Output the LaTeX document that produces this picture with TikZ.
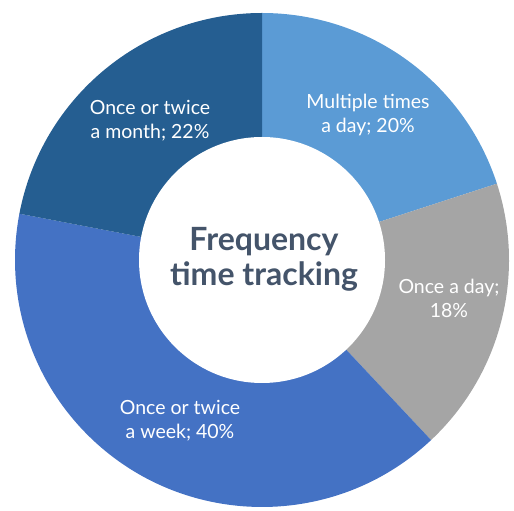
\documentclass[tikz,border=0pt]{standalone}
\usepackage{fontspec}
\setmainfont{Lato}
\usetikzlibrary{positioning,calc}

\definecolor{sliceA}{HTML}{5B9BD5}
\definecolor{sliceB}{HTML}{A5A5A5}
\definecolor{sliceC}{HTML}{4472C4}
\definecolor{sliceD}{HTML}{255E91}
\definecolor{titlegray}{HTML}{44546A}

\begin{document}
\begin{tikzpicture}[
    x=1pt, y=1pt,
    label/.style={align=center, text=white, font=\fontsize{19.5}{24}\selectfont, inner sep=0pt},
    title/.style={align=center, text=titlegray, font=\bfseries\fontsize{32}{35}\selectfont, inner sep=0pt}
]
\useasboundingbox (0,0) rectangle (514,511);

\coordinate (ctr) at (262,251);

% Slices (clockwise from top)
\fill[sliceA] (ctr) -- ++(90:247) arc[start angle=90, end angle=18, radius=247] -- cycle;
\fill[sliceB] (ctr) -- ++(18:247) arc[start angle=18, end angle=-46.8, radius=247] -- cycle;
\fill[sliceC] (ctr) -- ++(-46.8:247) arc[start angle=-46.8, end angle=-190.8, radius=247] -- cycle;
\fill[sliceD] (ctr) -- ++(-190.8:247) arc[start angle=-190.8, end angle=-270, radius=247] -- cycle;

% Hole
\fill[white] (ctr) circle[radius=123];

% Labels
\node[title] (centre) at (264,252) {Frequency\\time tracking};
\node[label] (multi) at (368,396) {Multiple times\\a day; 20\%};
\node[label] (daily) at (449,213) {Once a day;\\18\%};
\node[label] (weekly) at (180,90) {Once or twice\\a week; 40\%};
\node[label] (monthly) at (150,390) {Once or twice\\a month; 22\%};

\end{tikzpicture}
\end{document}
